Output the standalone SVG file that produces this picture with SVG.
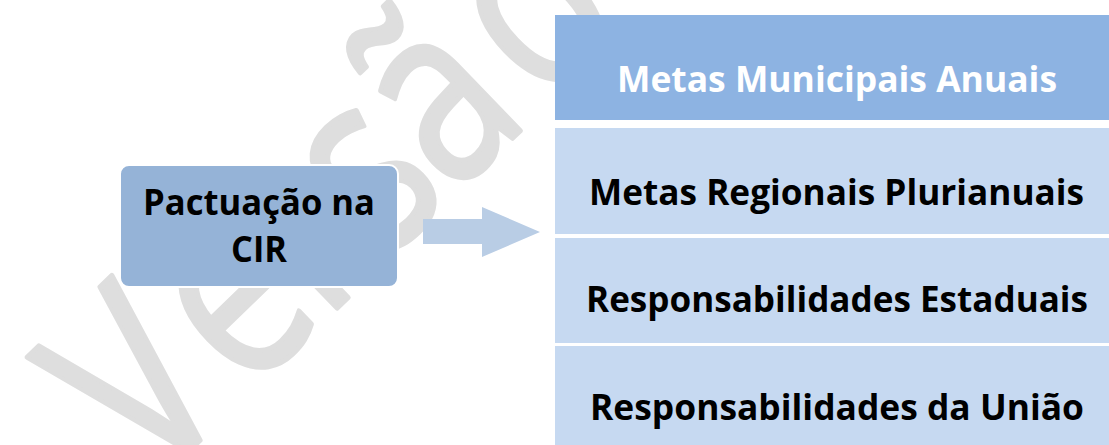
<svg xmlns="http://www.w3.org/2000/svg" width="1109" height="445" viewBox="0 0 1109 445">
  <style>
    .lbl { font-family: "Open Sans", "Liberation Sans", sans-serif; font-weight: 700; font-size: 36px; text-anchor: middle; }
    .dark { fill: #000000; }
    .light { fill: #FFFFFF; }
    .wm { font-family: "Open Sans", "Liberation Sans", sans-serif; font-weight: 400; font-size: 252px; fill: #DEDEDE; stroke: #DEDEDE; stroke-width: 5; stroke-linejoin: round; }
  </style>
  <rect x="0" y="0" width="1109" height="445" fill="#FFFFFF"/>
  <g id="watermark">
    <text class="wm" transform="translate(192,448) rotate(-44) scale(0.79,1)" x="-71 96 233 341 459 620" y="0">Versão</text>
  </g>
  <g id="connectors">
    <polygon points="423,219 482,219 482,207 540,232 482,257 482,244 423,244" fill="#B9CDE5"/>
  </g>
  <g id="node-pactuacao">
    <rect x="120" y="165" width="278" height="122" rx="9" ry="9" fill="#95B3D7" stroke="#FFFFFF" stroke-width="2"/>
    <text class="lbl dark" x="259" y="215" textLength="232" lengthAdjust="spacingAndGlyphs">Pactuação na</text>
    <text class="lbl dark" x="259" y="262" textLength="56" lengthAdjust="spacingAndGlyphs">CIR</text>
  </g>
  <g id="node-metas-municipais">
    <rect x="555" y="15" width="564" height="105" fill="#8DB3E2"/>
    <text class="lbl light" x="837" y="92" textLength="440" lengthAdjust="spacingAndGlyphs">Metas Municipais Anuais</text>
  </g>
  <g id="node-metas-regionais">
    <rect x="555" y="128" width="564" height="106" fill="#C6D9F1"/>
    <text class="lbl dark" x="836.5" y="205" textLength="495" lengthAdjust="spacingAndGlyphs">Metas Regionais Plurianuais</text>
  </g>
  <g id="node-resp-estaduais">
    <rect x="555" y="238" width="564" height="105" fill="#C6D9F1"/>
    <text class="lbl dark" x="837" y="312" textLength="502" lengthAdjust="spacingAndGlyphs">Responsabilidades Estaduais</text>
  </g>
  <g id="node-resp-uniao">
    <rect x="555" y="346" width="564" height="105" fill="#C6D9F1"/>
    <text class="lbl dark" x="837" y="420" textLength="494" lengthAdjust="spacingAndGlyphs">Responsabilidades da União</text>
  </g>
</svg>
